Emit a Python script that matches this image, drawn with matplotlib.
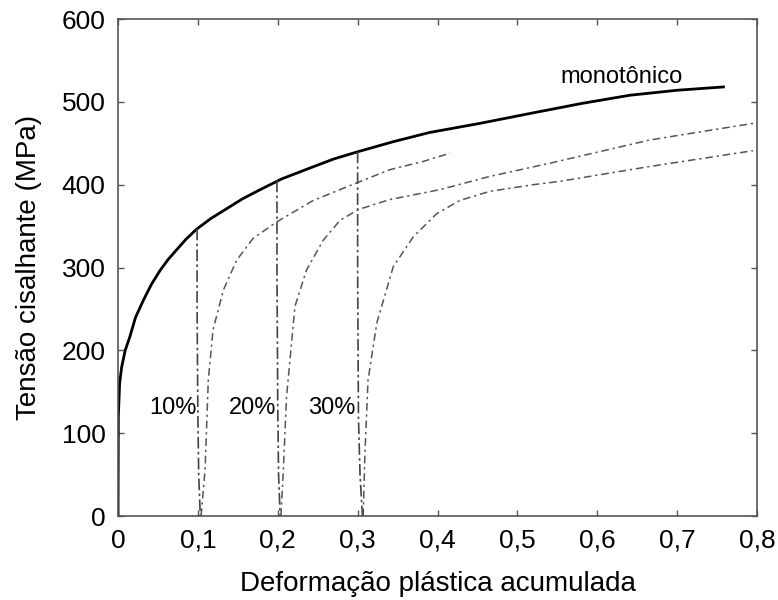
import matplotlib
matplotlib.use("Agg")
import matplotlib.pyplot as plt

plt.rcParams['font.family'] = ['Liberation Sans', 'DejaVu Sans']

# curva monotônica
mono_x = [0, 0.0004, 0.002, 0.0046, 0.009, 0.015, 0.022, 0.032, 0.042, 0.053, 0.063, 0.073, 0.085, 0.098,
          0.116, 0.136, 0.156, 0.178, 0.205, 0.24, 0.27, 0.301, 0.345, 0.39, 0.453, 0.516, 0.58, 0.641, 0.7, 0.758]
mono_y = [0, 120, 160, 180, 200, 217, 240, 261, 280, 297, 310, 321, 334, 346,
          359, 371, 383, 394, 407, 420, 431, 440, 452, 463, 474, 486, 498, 508, 514, 518]

# descarregamentos
unl10_x = [0.099, 0.099, 0.100, 0.101, 0.103]
unl10_y = [347, 250, 120, 50, 0]
unl20_x = [0.199, 0.199, 0.200, 0.201, 0.203]
unl20_y = [405, 300, 130, 50, 0]
unl30_x = [0.300, 0.300, 0.301, 0.303, 0.306]
unl30_y = [440, 300, 120, 50, 0]

# recarregamentos
rel10_x = [0.104, 0.109, 0.113, 0.119, 0.132, 0.1486, 0.169, 0.1986, 0.2445, 0.301, 0.340, 0.382, 0.4155]
rel10_y = [0, 56, 164, 225, 273, 309, 335, 355, 381, 403, 418, 428, 438]
rel20_x = [0.204, 0.207, 0.211, 0.2215, 0.236, 0.257, 0.278, 0.301, 0.340, 0.403, 0.4656, 0.541, 0.666, 0.795]
rel20_y = [0, 56, 144, 253, 297, 333, 357, 370, 382, 394, 410, 426, 454, 474]
rel30_x = [0.307, 0.309, 0.313, 0.324, 0.3446, 0.3696, 0.399, 0.428, 0.4656, 0.52, 0.553, 0.666, 0.795]
rel30_y = [0, 72, 164, 233, 301, 337, 365, 381, 392, 400, 404, 422, 441]

x_ticks = [0, 0.1, 0.2, 0.3, 0.4, 0.5, 0.6, 0.7, 0.8]
x_tick_labels = ['0', '0,1', '0,2', '0,3', '0,4', '0,5', '0,6', '0,7', '0,8']
y_ticks = [0, 100, 200, 300, 400, 500, 600]

fig = plt.figure(figsize=(7.78, 6), dpi=100)
ax = fig.add_axes([0.1517, 0.14, 0.8213, 0.8283])

ax.plot(mono_x, mono_y, color='black', linewidth=2.0)
for ux, uy in [(unl10_x, unl10_y), (unl20_x, unl20_y), (unl30_x, unl30_y)]:
    ax.plot(ux, uy, color='#444444', linewidth=1.2, linestyle=(0, (7, 2, 1.5, 2)))
for rx, ry in [(rel10_x, rel10_y), (rel20_x, rel20_y), (rel30_x, rel30_y)]:
    ax.plot(rx, ry, color='#555555', linewidth=1.1, linestyle=(0, (5, 2.5, 1.5, 2.5)))

ax.text(0.63, 530, 'monotônico', fontsize=17, ha='center', va='center')
ax.text(0.069, 130, '10%', fontsize=17, ha='center', va='center')
ax.text(0.168, 130, '20%', fontsize=17, ha='center', va='center')
ax.text(0.267, 130, '30%', fontsize=17, ha='center', va='center')

ax.set_xlim(0, 0.8)
ax.set_ylim(0, 600)
ax.set_xticks(x_ticks)
ax.set_xticklabels(x_tick_labels)
ax.set_yticks(y_ticks)
ax.tick_params(direction='in', top=True, right=True, length=4, width=1,
               color='#555555', labelsize=19, pad=9)
ax.tick_params(axis='y', pad=9)
for s in ax.spines.values():
    s.set_color('#555555')
    s.set_linewidth(1.2)

ax.set_xlabel('Deformação plástica acumulada', fontsize=20, labelpad=13)
ax.set_ylabel('Tensão cisalhante (MPa)', fontsize=20, labelpad=14)

fig.savefig('out.png', dpi=100)
